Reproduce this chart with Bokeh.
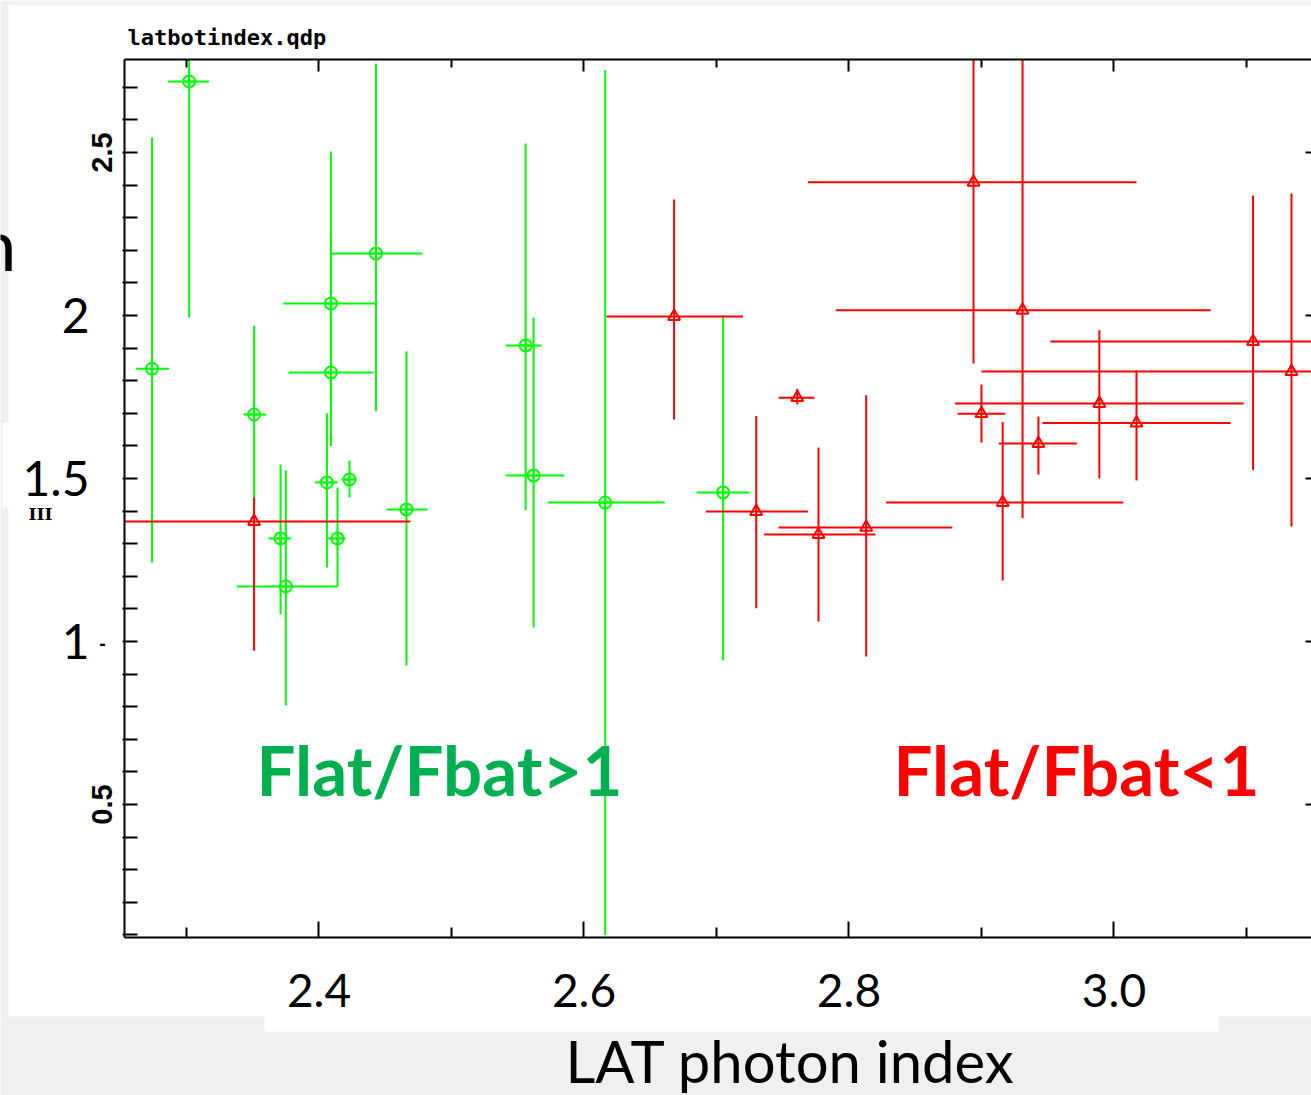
import numpy as np
from bokeh.plotting import figure
from bokeh.models import (Range1d, LinearAxis, FixedTicker, Label, BoxAnnotation,
                          ColumnDataSource)
from bokeh.embed import file_html
from bokeh.resources import INLINE

# ---------------- data ----------------
# Flat/Fbat > 1 (green)
green_x    = [2.274, 2.302, 2.351, 2.371, 2.375, 2.409, 2.414, 2.409, 2.406, 2.423, 2.466, 2.443, 2.556, 2.562, 2.616, 2.705]
green_xlo  = [2.262, 2.286, 2.343, 2.362, 2.338, 2.373, 2.407, 2.377, 2.397, 2.417, 2.451, 2.410, 2.541, 2.541, 2.573, 2.685]
green_xhi  = [2.287, 2.317, 2.360, 2.379, 2.414, 2.443, 2.420, 2.441, 2.414, 2.428, 2.482, 2.478, 2.568, 2.585, 2.661, 2.725]
green_y    = [1.837, 2.718, 1.696, 1.316, 1.169, 2.037, 1.316, 1.825, 1.488, 1.497, 1.405, 2.190, 1.908, 1.509, 1.426, 1.457]
green_ylo  = [1.242, 1.994, 1.423, 1.083, 0.804, 1.600, 1.169, 1.620, 1.227, 1.442, 0.926, 1.706, 1.403, 1.043, 0.100, 0.942]
green_yhi  = [2.546, 3.440, 1.969, 1.543, 1.525, 2.503, 1.472, 2.250, 1.700, 1.555, 1.890, 2.773, 2.528, 1.994, 2.752, 2.000]

# Flat/Fbat < 1 (red)
red_x   = [2.351, 2.668, 2.761, 2.730, 2.777, 2.813, 2.894, 2.931, 2.916, 3.105, 3.134, 2.989, 2.900, 3.017, 2.943]
red_xlo = [2.233, 2.617, 2.747, 2.692, 2.736, 2.747, 2.769, 2.790, 2.828, 2.952, 2.900, 2.880, 2.882, 2.946, 2.913]
red_xhi = [2.469, 2.720, 2.774, 2.769, 2.820, 2.878, 3.017, 3.073, 3.007, 3.258, 3.368, 3.098, 2.918, 3.088, 2.972]
red_y   = [1.368, 1.997, 1.748, 1.399, 1.328, 1.350, 2.409, 2.016, 1.426, 1.920, 1.828, 1.730, 1.699, 1.670, 1.607]
red_ylo = [0.972, 1.681, 1.727, 1.102, 1.061, 0.954, 1.853, 1.378, 1.187, 1.525, 1.353, 1.500, 1.610, 1.494, 1.512]
red_yhi = [1.442, 2.356, 1.775, 1.692, 1.595, 1.755, 2.965, 2.800, 1.673, 2.368, 2.374, 1.955, 1.788, 1.831, 1.690]

x_ticks = [2.4, 2.6, 2.8, 3.0]
x_tick_labels = ["2.4", "2.6", "2.8", "3.0"]
x_minor = [2.3, 2.5, 2.7, 2.9, 3.1]
qdp_y_ticks = [0.5, 2.5]
qdp_y_labels = ["0.5", "2.5"]
slide_y_ticks = [1.0, 1.5, 2.0]
slide_y_labels = ["1", "1.5", "2"]
y_minor = [round(0.1 * i, 1) for i in range(1, 28) if i not in (5, 25)]
y_right_ticks = [0.5, 1.0, 1.5, 2.0, 2.5]

x_title = "LAT photon index"
file_title = "latbotindex.qdp"
green_text = "Flat/Fbat>1"
red_text = "Flat/Fbat<1"

# ---------------- layout ----------------
W, H = 1311, 1095
FL, FT, FB = 124, 59, 937          # QDP frame edges in page pixels
X0, X1 = 2.2532, 3.1491            # QDP x limits (left edge, page right edge)
Y0, Y1 = 0.0920, 2.7853            # QDP y limits
SX = (W - FL) / (X1 - X0)
SY = (FB - FT) / (Y1 - Y0)


def px_x(px):
    return X0 + (px - FL) / SX


def px_y(py):
    return Y1 - (py - FT) / SY


p = figure(width=W, height=H,
           x_range=Range1d(px_x(0), px_x(W)), y_range=Range1d(px_y(H), px_y(0)),
           output_backend="svg", toolbar_location=None,
           x_axis_location=None, y_axis_location=None,
           min_border=0, min_border_left=0, min_border_right=0,
           min_border_top=0, min_border_bottom=0)
p.outline_line_color = None
p.background_fill_color = "white"
p.border_fill_color = "white"
p.xgrid.visible = False
p.ygrid.visible = False

FONT = "Lato"


def add_axis(side, loc, ticker, bounds, line=True, maj=(0, 0), mnr=(0, 0)):
    ax = LinearAxis(ticker=ticker, fixed_location=loc, bounds=bounds)
    ax.axis_line_color = "black" if line else None
    ax.axis_line_width = 2
    ax.major_tick_line_color = "black"
    ax.major_tick_line_width = 2
    ax.minor_tick_line_color = "black"
    ax.minor_tick_line_width = 2
    ax.major_tick_in, ax.major_tick_out = maj
    ax.minor_tick_in, ax.minor_tick_out = mnr
    p.add_layout(ax, side)
    return ax


xb_bounds = (X0, X1)
# bottom: rule + minor ticks
add_axis("below", Y0, FixedTicker(ticks=[], minor_ticks=x_minor), xb_bounds, mnr=(10, 0))
# bottom: major ticks, labels and title (label centred like the slide text)
xb = add_axis("below", Y0, FixedTicker(ticks=x_ticks, minor_ticks=[]),
              (px_x(270), px_x(1310)), line=False, maj=(16, 0))
xb.major_label_overrides = dict(zip(x_ticks, x_tick_labels))
xb.major_label_text_font = FONT
xb.major_label_text_font_size = "46px"
xb.major_label_text_color = "black"
xb.major_label_standoff = 36
xb.axis_label = x_title
xb.axis_label_text_font = FONT
xb.axis_label_text_font_size = "58px"
xb.axis_label_text_font_style = "normal"
xb.axis_label_text_color = "black"
xb.axis_label_standoff = 16

# top: rule + ticks
add_axis("above", Y1, FixedTicker(ticks=[], minor_ticks=x_minor), xb_bounds, mnr=(8, 0))
add_axis("above", Y1, FixedTicker(ticks=[], minor_ticks=x_ticks), xb_bounds, line=False, mnr=(12, 0))

# left: QDP rule, ticks every 0.1, rotated QDP labels
yl = add_axis("left", X0, FixedTicker(ticks=qdp_y_ticks, minor_ticks=y_minor), (Y0, Y1),
              maj=(13, 2), mnr=(13, 2))
yl.major_label_overrides = dict(zip(qdp_y_ticks, qdp_y_labels))
yl.major_label_orientation = "vertical"
yl.major_label_text_font = "Liberation Sans"
yl.major_label_text_font_style = "bold"
yl.major_label_text_font_size = "29px"
yl.major_label_text_color = "black"
yl.major_label_standoff = 10

# left: slide labels
ys = add_axis("left", X0, FixedTicker(ticks=slide_y_ticks, minor_ticks=[]), (Y0, Y1),
              line=False, maj=(0, 0))
ys.major_tick_line_color = None
ys.major_label_overrides = dict(zip(slide_y_ticks, slide_y_labels))
ys.major_label_text_font = FONT
ys.major_label_text_font_size = "48px"
ys.major_label_text_color = "black"
ys.major_label_standoff = 35

# right: tick stubs (rule itself lies just outside the page)
add_axis("right", px_x(1318), FixedTicker(ticks=[], minor_ticks=y_right_ticks), (Y0, Y1),
         line=False, mnr=(13, 0))

# slide background pieces
GRAY = "#f0f0f0"
for (l, r, t, b, c) in [(0, W, 0, 5, GRAY), (0, 8, 5, 1016, GRAY), (0, W, 1016, H, GRAY),
                        (2, 110, 422, 507, "white"), (264, 1218, 1010, 1031, "white")]:
    p.add_layout(BoxAnnotation(left=px_x(l), right=px_x(r), top=px_y(t), bottom=px_y(b),
                               fill_color=c, fill_alpha=1.0, line_color=None,
                               level="underlay"))

# data glyphs (error bars clipped to the QDP frame)
def source(x, xlo, xhi, y, ylo, yhi):
    return ColumnDataSource(dict(
        x=x, y=y,
        xlo=np.clip(xlo, X0, None), xhi=np.clip(xhi, X0, None),
        ylo=np.clip(ylo, Y0, Y1), yhi=np.clip(yhi, Y0, Y1)))


gsrc = source(green_x, green_xlo, green_xhi, green_y, green_ylo, green_yhi)
rsrc = source(red_x, red_xlo, red_xhi, red_y, red_ylo, red_yhi)
GREEN = "#00ff00"
RED = "#ff0000"
for src, col, mk in [(gsrc, GREEN, "circle_cross"), (rsrc, RED, "triangle")]:
    p.segment(x0="xlo", y0="y", x1="xhi", y1="y", source=src, line_color=col, line_width=2)
    p.segment(x0="x", y0="ylo", x1="x", y1="yhi", source=src, line_color=col, line_width=2)
    p.scatter(x="x", y="y", source=src, marker=mk, size=12, fill_color=None,
              line_color=col, line_width=2)

# texts
p.add_layout(Label(x=px_x(127), y=px_y(37), text=file_title, text_font="DejaVu Sans Mono",
                   text_font_style="bold", text_font_size="22px", text_color="black",
                   text_baseline="middle"))
p.add_layout(Label(x=px_x(256), y=px_y(769), text=green_text, text_font=FONT,
                   text_font_style="bold", text_font_size="69px", text_color="#00B050",
                   text_baseline="middle"))
p.add_layout(Label(x=px_x(893), y=px_y(769), text=red_text, text_font=FONT,
                   text_font_style="bold", text_font_size="69px", text_color="#FF0000",
                   text_baseline="middle"))
p.add_layout(Label(x=px_x(16), y=px_y(242), text="n", text_font=FONT,
                   text_font_size="72px", text_color="black", text_align="right",
                   text_baseline="middle"))
# small fragments of the underlying QDP labels peeking from the slide boxes
p.add_layout(Label(x=px_x(40), y=px_y(513), text="III", text_font="DejaVu Serif",
                   text_font_style="bold", text_font_size="17px", text_color="black",
                   text_align="center", text_baseline="middle"))
p.add_layout(Label(x=px_x(102), y=px_y(642), text="-", text_font="DejaVu Sans",
                   text_font_style="bold", text_font_size="16px", text_color="black",
                   text_align="center", text_baseline="middle"))

open("out.html", "w").write(file_html(p, INLINE))
